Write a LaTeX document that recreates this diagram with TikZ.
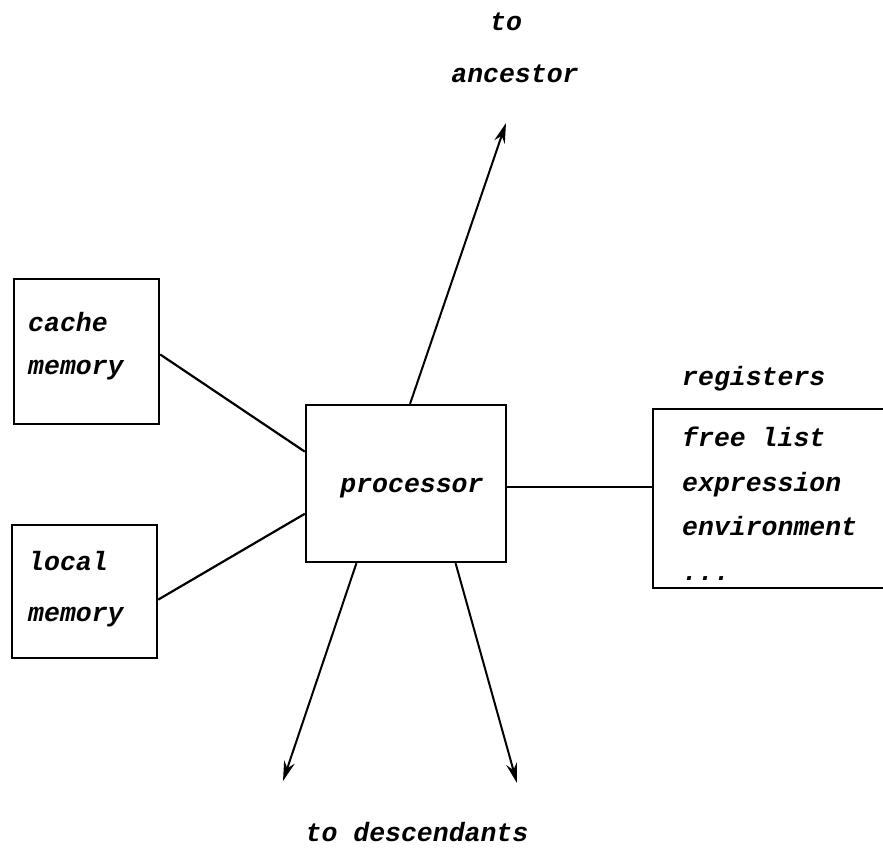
\documentclass[tikz,border=0pt]{standalone}
\usepackage{fontspec}
\setmonofont{Liberation Mono}
\usetikzlibrary{calc,arrows.meta}
\begin{document}
\begin{tikzpicture}[x=1pt,y=-1pt,
  txt/.style={font=\fontsize{26.5}{30}\selectfont\ttfamily\bfseries\itshape, inner sep=0pt},
  box/.style={draw, line width=2.4pt, inner sep=0pt},
  link/.style={line width=2.2pt},
  arr/.style={line width=2pt, -{Stealth[length=20pt,width=11pt]}}]
\useasboundingbox (0,0) rectangle (883,849);
\clip (0,0) rectangle (883,849);

% memory boxes
\node[box, minimum width=145pt, minimum height=145pt] (cache) at (86.5,351.5) {};
\node[txt, anchor=base west] (cachet1) at (28,331) {cache};
\node[txt, anchor=base west] (cachet2) at (28,374) {memory};

\node[box, minimum width=145pt, minimum height=133pt] (local) at (84.5,591.5) {};
\node[txt, anchor=base west] (localt1) at (28,570) {local};
\node[txt, anchor=base west] (localt2) at (28,621) {memory};

% processor
\node[box, minimum width=200pt, minimum height=157pt] (proc) at (406,483.5) {};
\node[txt] (proct) at (412,488) {processor};

% registers (open to the right)
\coordinate (regnw) at (653,409);
\coordinate (regsw) at (653,588);
\draw[line width=2.4pt] (900,409) -- (regnw) -- (regsw) -- (900,588);
\node[txt, anchor=base west] (regt) at (682,385) {registers};
\node[txt, anchor=base west] (reg1) at (682,446) {free list};
\node[txt, anchor=base west] (reg2) at (682,491) {expression};
\node[txt, anchor=base west] (reg3) at (682,535) {environment};
\node[txt, anchor=base west] (reg4) at (682,580) {...};
\coordinate (regin) at ($(regnw)!0.436!(regsw)$);

% links
\draw[link] ($(cache.north east)!0.52!(cache.south east)$) -- ($(proc.north west)!0.3!(proc.south west)$);
\draw[link] ($(local.north east)!0.56!(local.south east)$) -- ($(proc.north west)!0.69!(proc.south west)$);
\draw[link] (proc.east |- regin) -- (regin);

% arrows to ancestor and descendants
\coordinate (anc) at (506,123);
\coordinate (desc1) at (283,781);
\coordinate (desc2) at (517,783);
\draw[arr] ($(proc.north west)!0.52!(proc.north east)$) -- (anc);
\draw[arr] ($(proc.south west)!0.255!(proc.south east)$) -- (desc1);
\draw[arr] ($(proc.south west)!0.745!(proc.south east)$) -- (desc2);

\node[txt] (ancl1) at (506,22) {to};
\node[txt] (ancl2) at (515,74) {ancestor};
\node[txt] (descl) at (417,832) {to descendants};
\end{tikzpicture}
\end{document}
